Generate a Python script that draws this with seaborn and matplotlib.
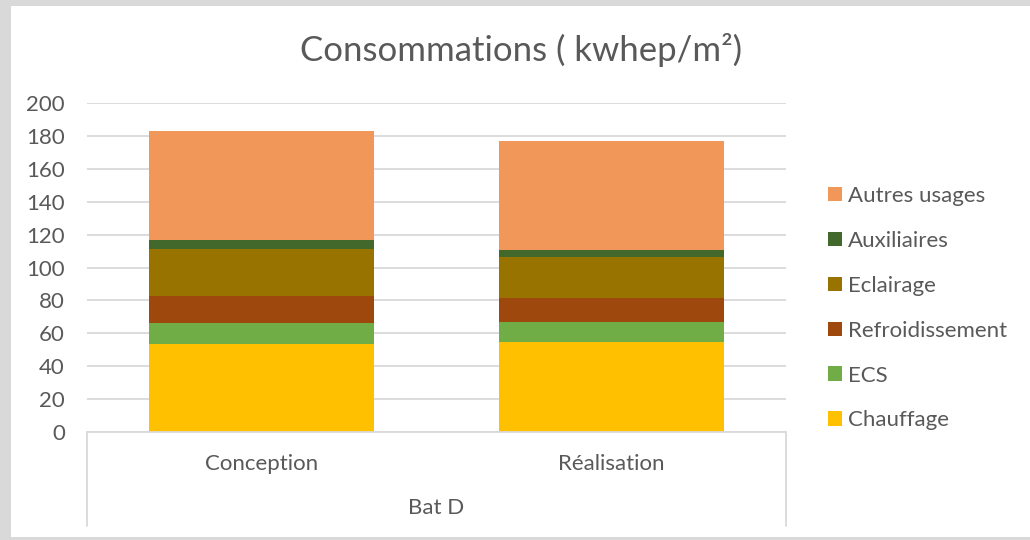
import pandas as pd
import matplotlib.pyplot as plt
import seaborn as sns
from matplotlib.patches import Patch, Rectangle

# chart data (kwhep/m²)
categories = ["Conception", "Réalisation"]
usages = ["Chauffage", "ECS", "Refroidissement", "Eclairage", "Auxiliaires", "Autres usages"]
chauffage = [53.5, 54.5]
ecs = [12.6, 12.4]
refroidissement = [16.6, 14.8]
eclairage = [28.5, 24.9]
auxiliaires = [5.5, 4.0]
autres_usages = [66.3, 66.3]
colors = ["#FFC000", "#70AD47", "#9E480E", "#997300", "#43682B", "#F1975A"]
yticks = [0, 20, 40, 60, 80, 100, 120, 140, 160, 180, 200]

df = pd.DataFrame({
    "Chauffage": chauffage,
    "ECS": ecs,
    "Refroidissement": refroidissement,
    "Eclairage": eclairage,
    "Auxiliaires": auxiliaires,
    "Autres usages": autres_usages,
}, index=categories)
cum = df[usages].cumsum(axis=1)

sns.set_style("white")
plt.rcParams["font.family"] = ["Lato", "DejaVu Sans"]
text_col = "#595959"
grid_col = "#d9d9d9"

W, H = 1030, 540
fig = plt.figure(figsize=(W / 100, H / 100), dpi=100)
fig.patch.set_facecolor("#d9d9d9")
fig.add_artist(Rectangle((11 / W, 3 / H), 1 - 11 / W, 531 / H,
                         transform=fig.transFigure, facecolor="white",
                         edgecolor="none", zorder=0))

ax = fig.add_axes([87 / W, 108 / H, 699 / W, 329 / H])
ax.set_facecolor("none")

# stacked bars: draw cumulative totals from top layer down
for usage, col in reversed(list(zip(usages, colors))):
    sns.barplot(x=categories, y=cum[usage].values, color=col, saturation=1,
                width=0.644, ax=ax, edgecolor="none", linewidth=0)

ax.set_xlim(-0.5, 1.5)
ax.set_ylim(0, 200)
ax.set_yticks(yticks)
ax.yaxis.grid(True, color=grid_col, lw=1.3)
ax.set_axisbelow(True)
for s in ["left", "top", "right"]:
    ax.spines[s].set_visible(False)
ax.spines["bottom"].set_color(grid_col)
ax.spines["bottom"].set_linewidth(1.3)
ax.tick_params(axis="y", length=0, pad=16, labelsize=16, labelcolor=text_col)
ax.tick_params(axis="x", length=0, pad=16, labelsize=16, labelcolor=text_col)
ax.set_xlabel("")
ax.set_ylabel("")

# multi-level category axis frame
depth = (526 - 432) / 329
for xa in [0, 1]:
    ax.plot([xa, xa], [0, -depth], transform=ax.transAxes, clip_on=False,
            color=grid_col, lw=1.3)
ax.text(0.5, -(508 - 432) / 329, "Bat D", transform=ax.transAxes,
        ha="center", va="center", fontsize=16, color=text_col)

fig.text(521 / W, 1 - 50 / H, "Consommations ( kwhep/m²)", ha="center",
         va="center", fontsize=25, color=text_col)

handles = [Patch(facecolor=c, edgecolor="none") for c in colors][::-1]
leg = fig.legend(handles, usages[::-1], loc="upper left",
                 bbox_to_anchor=(828 / W, 1 - 186 / H), frameon=False,
                 fontsize=16, handlelength=0.63, handleheight=0.63,
                 handletextpad=0.27, labelspacing=1.12, borderpad=0,
                 borderaxespad=0)
for t in leg.get_texts():
    t.set_color(text_col)

fig.savefig("out.png", dpi=100)
